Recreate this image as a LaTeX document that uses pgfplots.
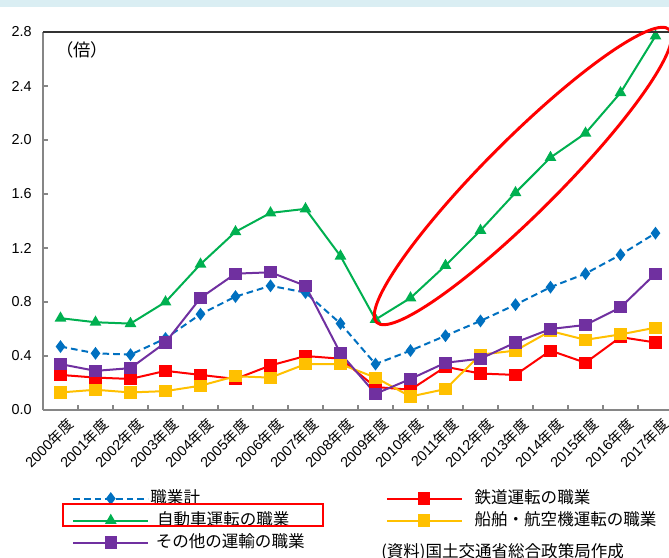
\documentclass[border=0pt]{standalone}
\usepackage{pgfplots}
\pgfplotsset{compat=1.18}
\usepackage{fontspec}
\setmainfont{Liberation Sans}
\newfontfamily\jp{Noto Sans CJK JP}
\definecolor{cBlue}{HTML}{0070C0}
\definecolor{cGreen}{HTML}{00B050}
\definecolor{cRed}{HTML}{FF0000}
\definecolor{cYel}{HTML}{FFC000}
\definecolor{cPur}{HTML}{7030A0}
\definecolor{cAx}{HTML}{868686}
\definecolor{cBand}{HTML}{DAEEF3}
\begin{document}
\begin{tikzpicture}
\useasboundingbox (0pt,0pt) rectangle (501.75pt,418.5pt);
\fill[cBand] (0pt,413.25pt) rectangle (501.75pt,418.5pt);
\begin{axis}[
  at={(32.25pt,111pt)}, anchor=south west,
  scale only axis, width=472.5pt, height=283.5pt,
  xmin=-0.5, xmax=17.5, ymin=0, ymax=2.8,
  clip=false,
  axis x line*=bottom, axis y line*=left,
  axis line style={-, cAx, line width=1.5pt},
  tick align=inside,
  xtick={0,...,17},
  xticklabels={2000{\jp 年度},2001{\jp 年度},2002{\jp 年度},2003{\jp 年度},2004{\jp 年度},2005{\jp 年度},2006{\jp 年度},2007{\jp 年度},2008{\jp 年度},2009{\jp 年度},2010{\jp 年度},2011{\jp 年度},2012{\jp 年度},2013{\jp 年度},2014{\jp 年度},2015{\jp 年度},2016{\jp 年度},2017{\jp 年度}},
  major x tick style={draw=none},
  minor xtick={0.5,1.5,...,16.5},
  minor tick length=4pt,
  minor tick style={cAx, line width=1pt},
  ytick={0,0.4,0.8,1.2,1.6,2.0,2.4,2.8},
  major tick length=4pt,
  major y tick style={cAx, line width=1pt},
  tick label style={font=\fontsize{10.8}{12}\selectfont},
  yticklabel style={xshift=-5pt, /pgf/number format/.cd, fixed, fixed zerofill, precision=1, assume math mode=true},
  xticklabel style={rotate=45, anchor=east, xshift=2.6pt, yshift=-11.6pt},
  legend columns=2,
  legend cell align=left,
  legend style={at={(0.040,-0.200)}, anchor=north west, draw=none, fill=none,
    font=\jp\fontsize{12.4}{14}\selectfont,
    nodes={inner sep=1pt, text height=10.5pt, text depth=2.5pt},
    row sep=1.5pt,
    /tikz/every even column/.append style={column sep=60pt}},
  legend image code/.code={\draw[mark repeat=2,mark phase=2,#1] plot coordinates {(0pt,0pt) (28pt,0pt) (56pt,0pt)};},
]
\addplot[cBlue, line width=1.5pt, dash pattern=on 5pt off 3pt, mark=diamond*, mark size=3.6pt, mark options={solid}]
coordinates {(0,0.47)(1,0.42)(2,0.41)(3,0.53)(4,0.71)(5,0.84)(6,0.92)(7,0.87)(8,0.64)(9,0.34)(10,0.44)(11,0.55)(12,0.66)(13,0.78)(14,0.91)(15,1.01)(16,1.15)(17,1.31)};
\addlegendentry{職業計}
\addplot[cRed, line width=1.5pt, mark=square*, mark size=3.8pt]
coordinates {(0,0.26)(1,0.24)(2,0.23)(3,0.29)(4,0.26)(5,0.23)(6,0.33)(7,0.40)(8,0.38)(9,0.17)(10,0.15)(11,0.32)(12,0.27)(13,0.26)(14,0.44)(15,0.35)(16,0.54)(17,0.50)};
\addlegendentry{\hspace{8pt}鉄道運転の職業}
\addplot[cGreen, line width=1.5pt, mark=triangle*, mark size=3.6pt]
coordinates {(0,0.68)(1,0.65)(2,0.64)(3,0.80)(4,1.08)(5,1.32)(6,1.46)(7,1.49)(8,1.14)(9,0.67)(10,0.83)(11,1.07)(12,1.33)(13,1.61)(14,1.87)(15,2.05)(16,2.35)(17,2.77)};
\addlegendentry{\hspace{5pt}自動車運転の職業}
\addplot[cYel, line width=1.5pt, mark=square*, mark size=3.8pt]
coordinates {(0,0.13)(1,0.15)(2,0.13)(3,0.14)(4,0.18)(5,0.25)(6,0.24)(7,0.34)(8,0.34)(9,0.24)(10,0.10)(11,0.155)(12,0.41)(13,0.44)(14,0.585)(15,0.52)(16,0.56)(17,0.61)};
\addlegendentry{\hspace{8pt}船舶・航空機運転の職業}
\addplot[cPur, line width=1.5pt, mark=square*, mark size=3.8pt]
coordinates {(0,0.34)(1,0.29)(2,0.31)(3,0.50)(4,0.83)(5,1.01)(6,1.02)(7,0.92)(8,0.42)(9,0.12)(10,0.23)(11,0.35)(12,0.38)(13,0.50)(14,0.60)(15,0.63)(16,0.76)(17,1.01)};
\addlegendentry{\hspace{4pt}その他の運輸の職業}
\end{axis}
\begin{scope}[x=0.75pt,y=0.75pt]
\draw[black!80, line width=1.5pt] (43,526) -- (680,526);
\draw[cRed, line width=2.2pt, rotate around={45:(523,382)}] (523,382) ellipse [x radius=207, y radius=37];
\node[anchor=west, font=\jp\fontsize{13}{15}\selectfont, inner sep=0pt] at (56,508) {（倍）};
\draw[cRed, line width=1.8pt] (63,54) rectangle (323,32);
\node[anchor=west, font=\jp\fontsize{12.4}{14}\selectfont, inner sep=0pt] at (381,6) {(資料)国土交通省総合政策局作成};
\end{scope}
\end{tikzpicture}
\end{document}
